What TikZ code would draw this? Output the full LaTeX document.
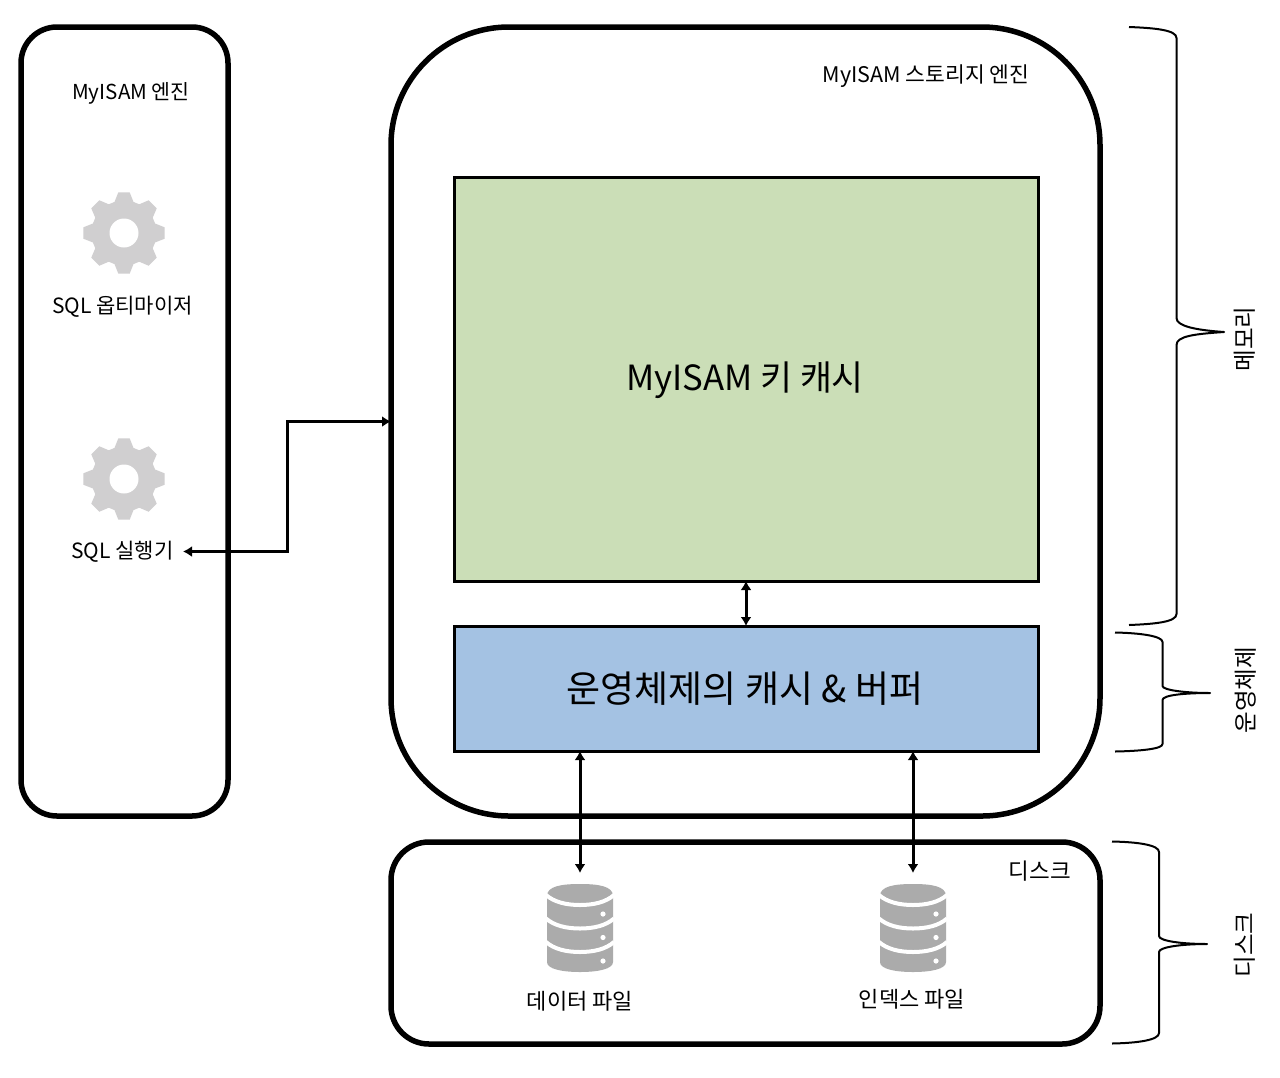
\documentclass[tikz,border=0pt]{standalone}
\usepackage{fontspec}
\setmainfont{Noto Sans CJK KR}
\usetikzlibrary{arrows.meta}
\definecolor{greenfill}{HTML}{CBDEB7}
\definecolor{bluefill}{HTML}{A4C2E3}
\definecolor{gearcol}{HTML}{D0CFD0}
\definecolor{dbcol}{HTML}{ABABAB}
\tikzset{
  x=1pt,y=-1pt,
  panel/.style={draw=black,line width=5.5pt,fill=white,rounded corners=#1,outer sep=0pt,inner sep=0pt},
  cache/.style={draw=black,line width=3pt,inner sep=0pt,outer sep=0pt},
  thinlink/.style={line width=3pt,draw=black,{Latex[length=9pt,width=11pt]}-{Latex[length=9pt,width=11pt]}},
  brace/.style={line width=2pt,draw=black,line join=round},
  lbl/.style={inner sep=0pt,text=black},
  side/.style={lbl,rotate=90,font=\fontsize{23.5}{26}\selectfont},
}
\newcommand{\gearicon}[2]{%
  \begin{scope}[shift={(#1,#2)}]
    \fill[gearcol]
      (-8-90:41) -- (8-90:41) -- (17-90:32.5)
      \foreach \a in {45,90,135,180,225,270,315} {
        -- (\a-17-90:32.5) -- (\a-8-90:41) -- (\a+8-90:41) -- (\a+17-90:32.5)
      } -- (-17-90:32.5) -- cycle;
    \fill[white] (0,0) circle[radius=14.5];
  \end{scope}}
\newcommand{\dbicon}[2]{%
  \begin{scope}[shift={(#1,#2)}]
    \fill[dbcol] (-33,12) .. controls (-33,2) and (-18,0) .. (0,0)
      .. controls (18,0) and (33,2) .. (33,12) -- (33,78)
      .. controls (33,85) and (18,88) .. (0,88)
      .. controls (-18,88) and (-33,85) .. (-33,78) -- cycle;
    \foreach \d in {0,23.5,47} {
      \draw[white,line width=4pt] (-34,{11+\d}) .. controls (-26,{18+\d}) and (-14,{21+\d}) .. (0,{21+\d})
        .. controls (14,{21+\d}) and (26,{18+\d}) .. (34,{11+\d});
      \fill[white] (23,{30+\d}) circle[radius=2.6];
    }
  \end{scope}}
\begin{document}
\begin{tikzpicture}
\useasboundingbox (0,0) rectangle (1280,1077);
% panels
\draw[panel=36] (21,27) rectangle (228,816);
\node[panel=118,minimum width=709pt,minimum height=789pt] (engine) at (745.5,421.5) {};
\node[panel=38,minimum width=709pt,minimum height=202pt] (disk) at (745.5,943) {};
% caches
\node[cache,fill=greenfill,minimum width=584pt,minimum height=404pt] (key) at (746,379) {};
\node[lbl,font=\fontsize{34.7}{40}\selectfont] (keylabel) at (745,380) {MyISAM 키 캐시};
\node[cache,fill=bluefill,minimum width=584pt,minimum height=125pt] (os) at (746,688.5) {};
\node[lbl,font=\fontsize{37}{42}\selectfont] (oslabel) at (745,689) {운영체제의 캐시 \& 버퍼};
% left labels and gears
\node[lbl,font=\fontsize{20.6}{24}\selectfont] (myisam) at (131,93) {MyISAM 엔진};
\gearicon{124}{233}
\node[lbl,font=\fontsize{21}{24}\selectfont] (optimizer) at (122.5,307) {SQL 옵티마이저};
\gearicon{124}{479}
\node[lbl,font=\fontsize{21}{24}\selectfont] (executor) at (122.5,552) {SQL 실행기};
\node[lbl,font=\fontsize{21.5}{24}\selectfont] (enginelabel) at (926,76) {MyISAM 스토리지 엔진};
\node[lbl,font=\fontsize{22.5}{24}\selectfont] (disklabel) at (1040,871) {디스크};
% databases
\dbicon{580}{884}
\dbicon{913}{884}
\node[lbl,font=\fontsize{22}{24}\selectfont] (datafile) at (580,1001) {데이터 파일};
\node[lbl,font=\fontsize{22}{24}\selectfont] (indexfile) at (912,999) {인덱스 파일};
\coordinate (datatop) at (580,873);
\coordinate (indextop) at (913,873);
\coordinate (execend) at (183,551.5);
% connectors
\draw[thinlink] (execend) -- (287,551.5) -- (287,421.5) -- (engine.west);
\draw[thinlink] (key.south) -- (os.north);
\draw[thinlink] (os.south -| datatop) -- (datatop);
\draw[thinlink] (os.south -| indextop) -- (indextop);
% braces
\draw[brace] (1129,27) .. controls (1155,28) and (1176.5,30) .. (1176.5,38) -- (1176.5,318)
  .. controls (1176.5,326) and (1195,330) .. (1224,332)
  .. controls (1195,334) and (1176.5,336) .. (1176.5,345) -- (1176.5,614)
  .. controls (1176.5,622) and (1155,624) .. (1129,625);
\draw[brace] (1115,632.5) .. controls (1140,633) and (1162.5,636) .. (1162.5,642) -- (1162.5,686)
  .. controls (1162.5,690) and (1185,693) .. (1210,693)
  .. controls (1185,693) and (1162.5,695) .. (1162.5,700) -- (1162.5,744)
  .. controls (1162.5,749) and (1140,751) .. (1115,751.5);
\draw[brace] (1112,841.5) .. controls (1138,842) and (1159,845) .. (1159,852) -- (1159,936)
  .. controls (1159,941) and (1182,944) .. (1207,944)
  .. controls (1182,944) and (1159,947) .. (1159,952) -- (1159,1033)
  .. controls (1159,1040) and (1138,1043) .. (1112,1043.5);
\node[side] (memlabel) at (1245,339) {메모리};
\node[side] (oslabel2) at (1246,690) {운영체제};
\node[side] (disklabel2) at (1245,945) {디스크};
\end{tikzpicture}
\end{document}
